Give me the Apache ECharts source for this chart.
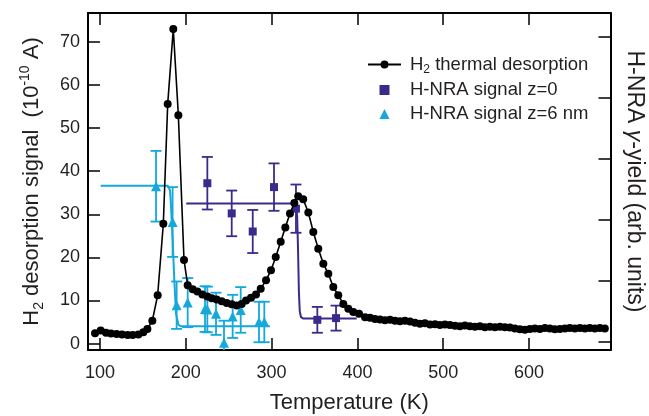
<!DOCTYPE html>
<html>
<head>
<meta charset="utf-8">
<title>H2 desorption vs H-NRA</title>
<script src="https://cdn.jsdelivr.net/npm/echarts@6/dist/echarts.min.js"></script>
<style>
  html, body { margin: 0; padding: 0; background: #fff; }
  #chart { width: 649px; height: 416px; }
</style>
</head>
<body>
<div id="chart"></div>
<script>
// H2 thermal desorption (temperature K, signal 1e-10 A)
var h2Temp = [94.2, 100.8, 107.0, 112.8, 119.4, 125.6, 132.2, 138.1, 144.7, 150.5,
  155.2, 161.0, 167.2, 173.8, 178.9, 185.4, 191.3, 197.9, 202.2, 208.0,
  213.4, 219.3, 225.1, 230.2, 236.0, 241.8, 247.6, 253.5, 259.3, 265.1,
  270.2, 276.0, 281.8, 287.3, 293.5, 299.3, 304.8, 310.6, 316.0, 321.4,
  326.5, 331.0, 336.8, 342.8, 348.6, 354.4, 360.3, 366.1, 371.9, 377.7,
  383.6, 389.4, 395.2, 401.9, 408.9, 414.7, 420.5, 426.3, 432.1, 438.0,
  443.8, 449.6, 455.4, 461.3, 467.1, 472.9, 478.7, 484.6, 490.4, 496.2,
  502.0, 507.8, 513.7, 519.5, 525.3, 531.1, 537.0, 542.8, 548.6, 554.4,
  560.3, 566.1, 571.9, 577.7, 583.5, 589.4, 595.2, 601.0, 606.8, 612.7,
  618.5, 624.3, 630.1, 636.0, 641.8, 647.6, 653.4, 659.3, 665.1, 670.9,
  676.7, 682.6, 688.4];
var h2Signal = [2.4, 3.0, 2.5, 2.3, 2.2, 2.1, 2.0, 2.0, 2.1, 2.6,
  3.4, 5.3, 11.2, 27.8, 55.6, 73.0, 53.0, 19.4, 13.5, 12.6,
  12.1, 11.4, 10.9, 10.5, 10.2, 9.8, 9.4, 9.1, 8.8, 9.2,
  10.0, 10.6, 11.4, 12.7, 14.7, 17.0, 20.1, 23.6, 26.9, 30.2,
  32.6, 34.2, 33.5, 30.4, 25.9, 22.0, 18.5, 16.2, 13.1, 11.2,
  9.2, 8.1, 7.3, 6.9, 6.1, 6.0, 5.7, 5.6, 5.4, 5.5,
  5.3, 5.2, 5.3, 5.1, 4.8, 4.6, 4.7, 4.4, 4.5, 4.3,
  4.4, 4.3, 4.1, 4.0, 4.2, 4.0, 3.9, 4.0, 3.8, 3.9,
  3.8, 3.9, 3.8, 3.7, 3.5, 3.3, 3.2, 3.4, 3.5, 3.4,
  3.6, 3.5, 3.3, 3.4, 3.5, 3.6, 3.5, 3.6, 3.5, 3.6,
  3.5, 3.6, 3.5];

// H-NRA signal z=0
var z0Temp = [225.1, 253.5, 278.0, 302.8, 328.4, 353.3, 375.1];
var z0Val = [37.2, 30.2, 26.0, 36.3, 31.3, 5.5, 5.9];
var z0Err = [6.1, 5.3, 5.0, 5.5, 5.6, 3.0, 2.9];
var z0FitTemp = [200.5, 326.0, 328.5, 329.8, 330.8, 331.8, 332.8, 334.3, 337.0, 399.2];
var z0FitVal = [32.5, 32.5, 32.0, 29.5, 22.0, 12.0, 7.5, 6.1, 5.8, 5.8];

// H-NRA signal z=6 nm
var z6Temp = [165.3, 184.6, 189.3, 202.2, 222.4, 225.1, 235.2, 244.5, 254.6, 264.0, 285.3, 291.5];
var z6Val = [36.5, 28.2, 8.9, 9.5, 8.0, 7.9, 6.9, 0.2, 6.3, 7.8, 5.0, 5.0];
var z6Err = [8.2, 8.1, 5.5, 5.7, 5.3, 5.3, 4.9, 5.1, 5.0, 5.3, 4.7, 4.7];
var z6FitTemp = [100.8, 179.0, 181.6, 182.8, 184.7, 186.6, 188.6, 191.3, 194.0, 298.0];
var z6FitVal = [36.6, 36.6, 35.6, 31.7, 24.0, 14.7, 6.9, 4.4, 4.0, 4.0];

var xTicks = [100, 200, 300, 400, 500, 600];
var yTicks = [0, 10, 20, 30, 40, 50, 60, 70];
var rightTicks = [0, 1, 2, 3, 4, 5];

var BLACK = '#000000';
var PURPLE = '#3b2a8c';
var CYAN = '#14a8dc';
var TEXT = '#231f20';
var FONT = 'Liberation Sans, Arial, sans-serif';

function pairs(xs, ys) {
  return xs.map(function (x, i) { return [x, ys[i]]; });
}

function errorBars(name, xs, ys, es, color) {
  return {
    name: name + '-err',
    type: 'custom',
    clip: true,
    silent: true,
    z: 3,
    data: xs.map(function (x, i) { return [x, ys[i] - es[i], ys[i] + es[i]]; }),
    encode: { x: 0, y: [1, 2] },
    renderItem: function (params, api) {
      var lo = api.coord([api.value(0), api.value(1)]);
      var hi = api.coord([api.value(0), api.value(2)]);
      var hw = 5.5;
      var st = { stroke: color, lineWidth: 1.8 };
      return {
        type: 'group',
        children: [
          { type: 'line', shape: { x1: lo[0], y1: lo[1], x2: hi[0], y2: hi[1] }, style: st },
          { type: 'line', shape: { x1: lo[0] - hw, y1: lo[1], x2: lo[0] + hw, y2: lo[1] }, style: st },
          { type: 'line', shape: { x1: hi[0] - hw, y1: hi[1], x2: hi[0] + hw, y2: hi[1] }, style: st }
        ]
      };
    }
  };
}

var axisLine = { show: true, onZero: false, lineStyle: { color: BLACK, width: 2 } };
var tickStyle = { color: BLACK, width: 1.5 };

var chart = echarts.init(document.getElementById('chart'));
chart.setOption({
  animation: false,
  textStyle: { fontFamily: FONT },
  grid: { left: 88, right: 38.5, top: 13, bottom: 66, containLabel: false, outerBoundsMode: 'none' },
  legend: {
    orient: 'vertical',
    left: 362,
    top: 50,
    itemWidth: 33,
    itemHeight: 10,
    itemGap: 5,
    data: [
      { name: 'h2' },
      { name: 'z0', icon: 'path://M0,0H10V10H0Z' },
      { name: 'z6', icon: 'path://M5,0L10,10H0Z' }
    ],
    formatter: function (n) {
      if (n === 'h2') return '{a|H}{s|2}{a| thermal desorption}';
      if (n === 'z0') return '{a|H-NRA signal z=0}';
      return '{a|H-NRA signal z=6 nm}';
    },
    textStyle: {
      color: TEXT,
      fontSize: 18,
      padding: [0, 0, 0, 4],
      rich: {
        a: { fontSize: 18.5, color: TEXT, lineHeight: 22 },
        s: { fontSize: 12, color: TEXT, verticalAlign: 'bottom', lineHeight: 22 }
      }
    }
  },
  xAxis: [{
    type: 'value',
    position: 'bottom',
    min: 86,
    max: 695,
    axisLine: axisLine,
    axisTick: { show: true, inside: true, length: 12, lineStyle: tickStyle, customValues: xTicks },
    axisLabel: { show: true, margin: 14, fontSize: 18, color: TEXT, customValues: xTicks },
    splitLine: { show: false },
    name: 'Temperature (K)',
    nameLocation: 'middle',
    nameGap: 42,
    nameTextStyle: { fontSize: 22, color: TEXT }
  }, {
    type: 'value',
    position: 'top',
    min: 86,
    max: 695,
    axisLine: axisLine,
    axisTick: { show: true, inside: true, length: 12, lineStyle: tickStyle, customValues: xTicks },
    axisLabel: { show: false },
    splitLine: { show: false }
  }],
  yAxis: [{
    type: 'value',
    position: 'left',
    min: -1.5,
    max: 76.7,
    axisLine: axisLine,
    axisTick: { show: true, inside: true, length: 12, lineStyle: tickStyle, customValues: yTicks },
    axisLabel: { show: true, margin: 8, fontSize: 18, color: TEXT, customValues: yTicks },
    splitLine: { show: false },
    name: '{n|H}{s|2}{n| desorption signal  (10}{p|-10}{n| A)}',
    nameLocation: 'middle',
    nameGap: 42,
    nameTextStyle: {
      color: TEXT,
      fontSize: 22,
      rich: {
        n: { fontSize: 22, color: TEXT, lineHeight: 28 },
        s: { fontSize: 14, color: TEXT, verticalAlign: 'bottom', lineHeight: 28 },
        p: { fontSize: 14, color: TEXT, verticalAlign: 'top', lineHeight: 28 }
      }
    }
  }, {
    type: 'value',
    position: 'right',
    min: -0.131,
    max: 5.393,
    axisLine: axisLine,
    axisTick: { show: true, inside: true, length: 12, lineStyle: tickStyle, customValues: rightTicks },
    axisLabel: { show: false },
    splitLine: { show: false },
    name: 'H-NRA {g|γ}-yield (arb. units)',
    nameLocation: 'middle',
    nameRotate: -90,
    nameGap: 12,
    nameTextStyle: {
      color: TEXT,
      fontSize: 23,
      rich: { g: { fontSize: 23, color: TEXT, fontStyle: 'italic' } }
    }
  }],
  series: [
    errorBars('z6', z6Temp, z6Val, z6Err, CYAN),
    {
      name: 'z6fit', type: 'line', data: pairs(z6FitTemp, z6FitVal), symbol: 'none',
      lineStyle: { color: CYAN, width: 2 }, z: 3, silent: true
    },
    {
      name: 'z6', type: 'scatter', data: pairs(z6Temp, z6Val), symbol: 'triangle', symbolSize: 10,
      itemStyle: { color: CYAN, opacity: 1 }, z: 4
    },
    errorBars('z0', z0Temp, z0Val, z0Err, PURPLE),
    {
      name: 'z0fit', type: 'line', data: pairs(z0FitTemp, z0FitVal), symbol: 'none',
      lineStyle: { color: PURPLE, width: 2 }, z: 3, silent: true
    },
    {
      name: 'z0', type: 'scatter', data: pairs(z0Temp, z0Val), symbol: 'rect', symbolSize: 8,
      itemStyle: { color: PURPLE, opacity: 1 }, z: 4
    },
    {
      name: 'h2', type: 'line', data: pairs(h2Temp, h2Signal), symbol: 'circle', symbolSize: 8,
      showAllSymbol: true,
      itemStyle: { color: BLACK }, lineStyle: { color: BLACK, width: 1.6 }, z: 5
    }
  ]
});
</script>
</body>
</html>
